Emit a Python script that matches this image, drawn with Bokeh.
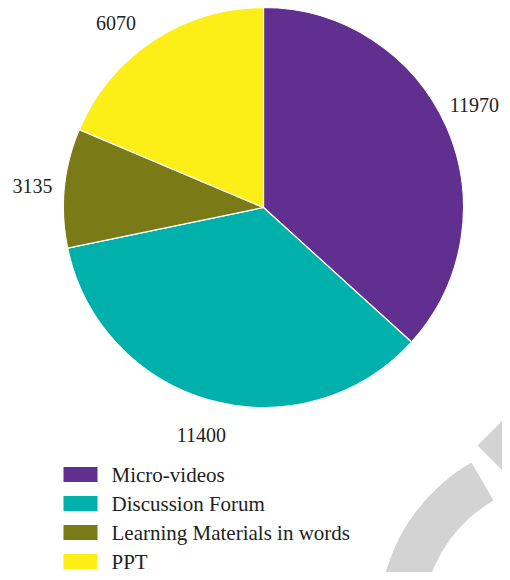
import numpy as np
import pandas as pd
from bokeh.plotting import figure
from bokeh.models import ColumnDataSource, Range1d
from bokeh.core.properties import value
from bokeh.embed import file_html
from bokeh.resources import INLINE

# ---- data ----
categories = ["Micro-videos", "Discussion Forum", "Learning Materials in words", "PPT"]
counts = [11970, 11400, 3135, 6070]
colors = ["#602F8F", "#00B0AA", "#7A7A16", "#FCEE16"]

# ---- layout constants (pixels) ----
W, H = 502, 572
CX, CY = 263, 365          # pie centre
R = 200                    # pie radius
LABEL_R = 236
LABEL_NUDGE_X = [-5, 0, 4, -17]
LABEL_NUDGE_Y = [7, 0, -2, -12]
FONT = value("Liberation Serif")

df = pd.DataFrame({"cat": categories, "val": counts, "color": colors})
total = df["val"].sum()
frac = df["val"] / total * 2 * np.pi
cum = frac.cumsum()
df["end"] = np.pi / 2 - (cum - frac)
df["start"] = np.pi / 2 - cum
mid = (df["start"] + df["end"]) / 2
df["lx"] = CX + LABEL_R * np.cos(mid) + np.array(LABEL_NUDGE_X)
df["ly"] = CY + LABEL_R * np.sin(mid) + np.array(LABEL_NUDGE_Y)
df["label"] = df["val"].astype(str)
src = ColumnDataSource(df)

p = figure(width=W, height=H, output_backend="svg", toolbar_location=None,
           x_range=Range1d(0, W), y_range=Range1d(0, H), min_border=0)
p.axis.visible = False
p.grid.visible = False
p.outline_line_color = None
p.background_fill_color = "white"
p.border_fill_color = "white"

# decorative grey ring (background ornament)
p.annular_wedge(x=564, y=-51, inner_radius=142, outer_radius=186,
                start_angle=np.deg2rad(120), end_angle=np.deg2rad(215),
                color="#D3D3D3", line_color=None)
p.patch(x=[477, 540, 540], y=[127, 190, 64], color="#D3D3D3", line_color=None)

# pie
p.wedge(x=CX, y=CY, radius=R, start_angle="start", end_angle="end",
        fill_color="color", line_color="white", line_width=1.2, source=src)

p.text(x="lx", y="ly", text="label", source=src, text_font=FONT,
       text_font_size="20px", text_font_style="normal", text_align="center",
       text_baseline="middle", text_color="#231F20")

# legend
leg = pd.DataFrame({"cat": categories, "color": colors})
leg["y"] = 98 - 29 * np.arange(len(categories))
lsrc = ColumnDataSource(leg)
p.rect(x=80, y="y", width=34, height=15, fill_color="color", line_color=None, source=lsrc)
p.text(x=111, y="y", text="cat", source=lsrc, text_font=FONT, text_font_size="21px",
       text_font_style="normal", text_align="left", text_baseline="middle",
       text_color="#231F20")

open("out.html", "w").write(file_html(p, INLINE))
